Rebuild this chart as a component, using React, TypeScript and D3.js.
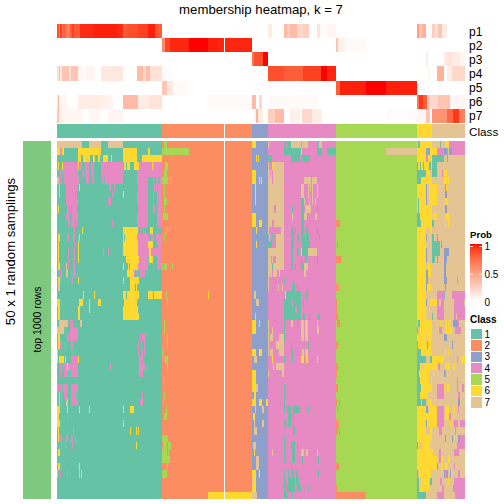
import React from "react";
import * as d3 from "d3";

const title = "membership heatmap, k = 7";
const classColors = ["#66C2A5", "#FC8D62", "#8DA0CB", "#E78AC3", "#A6D854", "#FFD92F", "#E5C494"];
const classLabels = ["1", "2", "3", "4", "5", "6", "7"];
const classBlocks: [number, number, number][] = [[1, 0, 104.5], [2, 104.5, 195], [3, 195, 211], [4, 211, 279], [5, 279, 360], [6, 360, 375], [7, 375, 408]];
const heatBase: [number, number, number][] = [[1, 0, 105], [2, 105, 195], [3, 195, 211], [4, 211, 279], [5, 279, 360], [7, 360, 408]];
const gapColumn = 167;
const probLabels = ["p1", "p2", "p3", "p4", "p5", "p6", "p7"];
const probTicks = [1, 0.5, 0];

const p1: [number, number, number][] = [[0,2,.85],[2,3,.65],[3,5,.9],[5,6,.7],[6,8,.8],[8,10,.7],[10,13,.65],[13,15,.8],[15,17,.9],[17,23,.82],[23,36,.95],[36,60,.97],[60,66,.95],[66,70,.8],[70,81,.85],[81,91,.9],[91,98,.97],[98,101,.85],[101,105,.8],[211,215,.1],[227,230,.35],[230,233,.25],[233,240,.35],[240,246,.2],[246,252,.25],[260,263,.15],[263,270,.02],[270,279,.05],[360,362,.5],[362,365,.3],[365,369,.4],[369,375,.02],[375,378,.25],[378,381,.15],[381,385,.3],[385,390,.1]];
const p2: [number, number, number][] = [[105,108,.6],[108,113,.88],[113,132,.96],[132,151,1],[151,161,.97],[161,195,.96],[279,281,.3],[281,288,.08],[288,309,.03]];
const p3: [number, number, number][] = [[195,197,.7],[197,206,.85],[206,211,1],[369,371,.1],[387,390,.1],[390,395,.15],[395,403,.1],[403,408,.05]];
const p4: [number, number, number][] = [[0,2,.15],[2,3,.35],[3,5,.12],[5,12,.3],[12,14,.15],[14,21,.3],[21,26,.05],[29,38,.05],[44,66,.12],[80,86,.35],[86,89,.2],[89,93,.35],[93,105,.15],[105,115,.02],[211,227,.85],[227,246,.8],[246,264,.9],[264,270,1],[270,279,.96],[371,373,.05],[380,387,.4],[390,395,.1],[395,408,.2]];
const p5: [number, number, number][] = [[105,110,.3],[110,116,.12],[116,132,.03],[279,283,.8],[283,309,.97],[309,329,1],[329,360,.97]];
const p6: [number, number, number][] = [[0,1,.1],[1,2,.4],[2,10,.05],[21,43,.1],[43,52,.08],[52,56,.05],[66,81,.35],[81,93,.1],[93,105,.15],[151,195,.03],[195,199,.35],[202,205,.2],[211,261,.03],[360,362,.7],[362,366,.92],[366,370,.8],[370,372,.3],[372,381,.2],[381,393,.3],[393,408,.05]];
const p7: [number, number, number][] = [[0,2,.3],[2,5,.1],[5,25,.05],[32,43,.04],[51,66,.05],[197,199,.05],[199,201,.4],[201,206,.1],[211,218,.25],[218,227,.35],[233,243,.08],[245,255,.2],[255,265,.1],[329,360,.02],[360,369,.05],[369,373,.3],[375,390,.55],[390,396,.75],[396,402,.92],[402,408,.65]];
const probRows = [p1, p2, p3, p4, p5, p6, p7];

const leftTopOffset = 21;
const leftTop = [
"7:21-96 7:117-153 7:174-219 5:342-351",
"6:21-30 4:30-36 6:36-42 6:84-153 6:219-261 6:294-300 5:336-417",
"6:84-93 6:99-120 6:129-135 6:144-150 6:159-174 6:183-186 6:219-261 6:276-336 4:363-366",
"6:24-27 6:36-39 4:39-84 6:84-87 4:90-96 4:105-117 4:123-132 4:153-219 6:222-228 6:231-240 6:252-267 4:267-336 6:306-309 5:345-354",
"4:30-36 4:39-84 4:96-102 4:105-117 4:123-132 4:153-219 4:261-336 5:342-351",
"7:21-27 4:27-36 4:42-87 4:108-117 4:126-132 4:156-162 4:165-219 4:261-294 4:309-312 4:318-324 4:330-336 5:336-354 5:357-360 5:363-366",
"7:27-30 4:48-84 6:87-90 4:177-183 4:192-195 4:264-294 4:312-321 4:324-336 5:342-345",
"7:27-30 4:48-75 4:78-81 4:186-189 6:219-222 4:261-294 4:309-312 4:321-336 5:342-345",
"4:48-84 4:174-183 4:261-294 4:309-312 4:321-336 5:342-351",
"6:24-27 4:51-57 4:60-63 4:66-81 4:264-294 4:309-315 4:321-336 5:342-345",
"4:48-60 4:66-84 4:261-294 4:321-336 5:339-354",
"4:54-60 4:63-75 4:78-81 4:186-189 4:261-294 4:321-336",
"4:69-75 6:96-99 6:219-264 4:270-273 4:279-282 4:285-288 6:300-309 4:321-324 5:345-348 5:351-354 5:357-360",
"6:24-30 4:51-57 4:69-75 6:87-90 6:219-222 6:225-261 4:261-297 4:303-312 4:318-336 5:342-345",
"6:24-27 4:72-75 6:84-87 6:219-264 4:264-294 6:294-309 4:321-336",
"6:24-27 4:54-57 4:69-75 6:84-87 4:159-162 4:174-177 6:219-264 4:264-297 6:297-303 4:303-336",
"6:24-27 4:54-57 4:69-75 6:84-87 6:228-267 4:267-294 6:297-309 4:321-336",
"6:24-30 7:48-51 4:54-57 4:69-75 6:219-222 6:234-237 6:240-264 4:264-294 4:309-312 4:321-336 5:336-339 5:342-351 5:366-369",
"4:30-36 7:48-54 4:63-66 4:69-78 6:231-252 4:252-255 4:261-264 4:270-285",
"6:24-30 4:33-36 4:51-54 4:66-69 6:84-87 6:219-222 6:240-267",
"7:24-30 6:240-255 6:258-261",
"6:99-102 6:132-135 6:219-228 6:231-267 6:294-309 6:312-336 5:348-351 6:474-477",
"6:21-30 4:33-36 6:87-99 6:117-120 6:144-153 6:222-261 5:351-354",
"6:24-30 6:84-90 6:117-120 6:219-264",
"6:24-30 6:84-90 6:219-267",
];
const leftBottomOffset = 171;
const leftBottom = [
"7:177-204 4:210-219 7:240-246 5:492-495",
"7:171-192 4:195-198 4:210-234 5:492-495",
"6:174-180 4:201-207 4:210-234 4:420-423 4:426-435 5:501-504",
"6:174-180 4:180-186 4:195-198 4:213-219 4:414-417 4:423-426 4:432-435 5:501-504",
"7:171-174 4:219-222 4:414-417 4:423-429 4:432-435 5:486-489",
"6:171-174 6:177-192 6:195-198 4:213-234 6:234-237 4:417-429 5:489-492 5:495-504",
"4:180-186 4:189-201 6:201-204 4:204-234 4:330-333 4:417-435 5:501-504",
"4:180-186 4:192-204 4:207-210 4:213-234 4:417-429",
"5:489-492",
"4:171-177 4:180-186 4:189-204 4:213-234",
"7:177-180 4:183-186 4:192-201 4:213-228 4:231-234 4:426-429 5:492-495",
"7:177-180 4:183-186 7:198-204 4:213-234 4:420-429 5:489-492",
"6:171-180 6:201-204 6:237-240 6:267-270 6:369-372 6:390-402 5:498-501",
"6:171-177 4:201-204 5:492-501",
"6:171-180 4:183-186 6:369-372",
"6:174-177 4:219-222 6:390-393 6:408-411 6:414-417",
"6:174-177 4:177-186 4:198-204 4:213-219 4:225-228 5:486-504",
"4:183-186 4:195-198 4:216-219 6:408-411 5:489-501 5:504-513",
"6:174-180 5:486-501 5:504-507",
"5:486-510",
"6:174-180 4:183-186 6:237-240 5:501-504",
"7:171-174 4:180-183 4:201-204 7:237-240 7:243-246 5:486-501",
"",
"",
"6:624-756",
];
const rightOffset = -549;
const rightRows = [
"6:36-48 7:84-87 1:132-138 1:141-153 7:153-183 7:186-204 1:234-237 7:237-246 1:534-540 6:540-576 1:600-603 6:615-627 4:627-675",
"4:84-132 1:132-183 6:183-186 1:231-246 1:261-288 7:438-531 6:531-558 3:558-561 4:561-564 3:564-570 6:570-591 4:591-612 3:612-621 4:621-624 3:627-636 4:636-675",
"6:48-51 6:54-57 1:84-96 1:153-180 1:186-210 6:531-558 4:558-564 6:564-576 1:576-612 1:621-624",
"7:84-87 6:96-99 7:99-132 1:531-534 6:534-540 1:540-543 6:543-549 1:549-552 6:552-567 1:567-573 6:573-576 1:576-591",
"6:36-48 7:84-90 7:93-96 7:99-132 1:531-558 6:558-570 1:576-591 4:606-609 6:612-621",
"6:36-48 6:57-60 6:63-66 7:84-96 7:99-132 7:192-213 7:216-231 1:531-543 6:543-576 6:612-621 6:624-627",
"6:45-48 7:84-132 7:183-192 7:204-207 7:210-213 7:216-219 7:231-234 6:531-558 3:558-561 6:567-591 3:615-618 6:618-621",
"6:45-48 7:84-132 7:183-192 7:204-207 7:216-219 7:231-234 6:531-558 3:558-561 6:567-591 3:615-621",
"6:45-48 7:84-132 1:183-192 7:192-195 7:207-210 7:216-219 7:225-228 6:531-534 1:534-537 6:537-558 3:558-561 6:567-591 6:615-624",
"7:84-132 4:102-108 1:156-159 1:183-192 7:195-213 1:231-234 6:531-534 1:534-537 6:537-576 3:615-621",
"6:36-48 7:84-132 7:156-159 1:183-192 7:192-201 1:201-204 7:225-231 1:531-540 6:540-576 6:579-591 6:615-627",
"6:36-48 6:57-66 7:84-96 7:102-132 1:183-192 2:288-300 1:531-543 6:543-576 1:576-582 6:615-618 6:624-627",
"6:48-51 4:87-123 7:84-87 7:123-132 1:153-162 1:165-168 1:183-192 1:198-204 1:231-234 6:531-558 6:570-576",
"1:84-87 7:87-90 1:96-99 7:108-132 1:153-162 1:171-177 1:183-195 1:198-207 1:237-240 6:531-558 3:558-561 1:576-582 1:591-594",
"6:48-51 1:84-96 7:108-132 1:153-162 1:186-210 2:291-294 6:531-558 1:576-600 1:603-606",
"7:84-132 1:153-159 1:171-177 6:183-186 1:186-204 7:204-231 6:531-558 3:558-561 1:576-600 3:612-627",
"7:84-93 7:96-99 7:108-132 1:153-159 1:183-186 1:195-201 1:231-234 2:288-303 6:531-558 3:558-561 1:576-585 1:591-594 3:612-621",
"7:84-96 1:96-99 7:99-132 1:153-159 1:165-168 1:183-192 7:192-204 6:531-558 6:561-573 3:612-618",
"7:84-96 7:99-111 7:117-120 7:192-198 6:531-558 3:558-564 6:564-573 3:612-618",
"7:84-87 1:132-135 6:531-558 3:558-564 3:612-621 4:651-654",
"7:84-87 7:114-117 7:126-129 1:156-165 1:171-174 2:288-291 2:294-297 6:531-558 3:558-561 6:561-573 3:615-618",
"7:42-48 1:135-183 6:135-138 1:198-204 6:531-558 4:591-612 3:612-615 4:636-675",
"7:48-57 1:132-156 1:159-183 1:189-192 2:288-291 6:531-558 3:558-561 6:570-591 4:591-597 4:603-612 4:642-672",
"1:132-165 4:165-171 1:171-183 2:288-291 6:531-558 4:591-612 4:642-675",
"7:45-48 1:132-183 1:189-195 1:207-210 1:234-240 2:288-294 6:531-558 1:576-579 4:591-612 4:642-648 4:651-675",
"6:36-48 6:57-60 7:84-87 1:132-135 7:153-159 1:171-174 7:183-192 7:195-204 7:231-234 2:291-300 1:534-540 6:540-576 6:600-603 6:615-621 6:624-630 3:639-654 4:654-657",
"6:36-48 7:84-87 7:96-99 1:132-135 7:183-192 7:195-204 7:231-237 1:531-534 6:540-576 4:597-606 6:615-636 4:645-663",
"7:84-87 7:90-99 7:117-132 1:132-135 7:183-192 7:195-204 6:531-558 6:561-564 6:564-576 3:612-621",
"7:84-87 7:108-132 1:153-156 1:204-207 2:288-294 1:531-534 6:534-561 3:561-564 6:564-573 3:636-639",
"6:36-48 6:57-66 7:84-87 7:90-99 7:117-132 1:153-159 1:171-174 7:186-192 7:195-204 1:531-543 6:543-576 6:615-618 6:624-627",
"7:42-51 6:96-99 1:132-135 1:156-159 6:183-192 6:198-204 6:231-234 1:531-558 1:570-576 6:576-612 4:651-654 6:663-675",
"7:99-102 7:108-132 2:288-294 1:531-540 6:540-546 6:549-594 4:594-600 6:615-630 6:639-645",
"6:36-48 7:84-87 7:126-132 2:288-291 1:531-537 6:537-567 6:579-582 6:591-594 3:612-615 4:615-618",
"6:36-48 1:531-537 3:537-540 6:540-567 6:573-576 4:651-654",
"6:36-48 7:48-54 1:132-135 2:288-294 1:531-543 6:543-576 4:591-612 6:612-615 6:621-627 4:651-654 4:666-672",
"6:42-48 1:132-135 1:531-540 6:540-564 4:591-612 4:654-660",
"6:36-48 6:57-66 6:78-84 1:132-135 2:288-291 2:297-300 1:531-543 1:546-558 6:564-576 3:654-660",
"7:45-48 7:66-72 1:132-135 1:141-153 1:159-180 1:204-207 2:291-294 6:531-558 3:558-564 6:567-591 4:591-612 6:615-627 6:642-645 4:653-657",
"6:39-45 1:144-156 1:159-162 6:531-591 4:591-612 6:615-627 4:627-633 6:639-642",
"7:42-45 7:66-72 1:132-138 1:144-153 1:159-162 2:288-291 2:294-297 6:531-558 3:558-561 6:561-591 4:591-612 6:630-633 4:642-654 4:660-675",
"7:42-51 1:159-165 2:288-294 2:297-300 6:531-558 6:570-576 4:597-606 4:645-648",
"1:132-135 6:531-576 3:615-618 3:636-639 3:654-660 4:660-675",
"7:39-48 1:132-135 1:153-165 1:171-174 1:531-534 6:534-537 6:546-570 6:615-618 4:651-675",
"6:42-45 7:96-99 1:132-135 1:156-165 7:183-192 7:198-204 7:231-234 6:531-579 4:597-603 4:642-657",
"7:48-57 1:132-135 1:156-165 1:186-189 1:234-237 6:531-591 4:597-603 6:603-609 6:624-630",
"7:48-57 1:153-156 2:288-297 6:531-591 1:591-594 6:603-609 6:615-624 4:642-645",
"6:36-48 6:57-60 1:132-135 1:144-147 1:156-162 1:168-174 1:234-237 1:531-534 6:537-573 3:612-615 4:615-621 3:621-624 3:630-633 6:633-636 4:654-660",
"7:36-39 6:39-48 1:132-138 1:144-165 1:168-177 1:531-537 6:537-540 6:543-567 1:570-576 4:600-606 6:624-627 4:642-675",
"6:36-48 1:132-138 1:141-165 1:171-183 1:204-207 2:288-291 1:531-537 6:540-567 4:606-612 4:639-675",
"7:36-51 1:132-141 1:156-159 2:288-378 1:531-558 4:591-612 4:645-675",
];

type Run = { c: number; a: number; b: number };
const parseRow = (s: string, offset: number): Run[] =>
  s.split(" ").filter(Boolean).map((t) => {
    const [c, r] = t.split(":");
    const [a, b] = r.split("-").map(Number);
    return { c: +c, a: (a - offset) / 3, b: (b - offset) / 3 };
  });

const left = [...leftTop.map((s) => parseRow(s, leftTopOffset)), ...leftBottom.map((s) => parseRow(s, leftBottomOffset))];
const right = rightRows.map((s) => parseRow(s, rightOffset));

const x = d3.scaleLinear().domain([0, 408]).range([57, 465]);
const y = d3.scaleLinear().domain([0, 50]).range([141, 499]);
const pY = d3.scaleLinear().domain([0, 7]).range([24, 123]);
const probColor = d3.scaleLinear<string>().domain([0, 0.5, 1]).range(["#FFFFFF", "#FF9E81", "#FF0000"]).interpolate(d3.interpolateLab);
const barY = d3.scaleLinear().domain([1, 0]).range([246.5, 302]);
const swatchY = d3.scaleBand<string>().domain(classLabels).range([328.5, 408]);
const font = "'Liberation Sans', Arial, sans-serif";

export default function App() {
  const stops = d3.range(0, 1.01, 0.05);
  return (
    <svg width={504} height={504} style={{ position: "absolute", left: 0, top: 0, background: "#fff" }} fontFamily={font} fill="#000">
      <defs>
        <linearGradient id="prob" x1="0" y1="1" x2="0" y2="0">
          {stops.map((s) => <stop key={s} offset={s} stopColor={probColor(s)} />)}
        </linearGradient>
      </defs>
      <text x={261} y={14} fontSize={13.2} textAnchor="middle">{title}</text>

      <g shapeRendering="crispEdges">
        {probRows.map((row, i) => row.map(([a, b, v], j) => (
          <rect key={`${i}-${j}`} x={x(a)} width={x(b) - x(a)} y={pY(i)} height={pY(i + 1) - pY(i)} fill={probColor(v)} />
        )))}
        {classBlocks.map(([c, a, b]) => (
          <rect key={c} x={x(a)} width={x(b) - x(a)} y={124} height={14} fill={classColors[c - 1]} />
        ))}
        <rect x={23} y={141} width={28} height={358} fill="#7FC97F" />
        {d3.range(50).map((r) => (
          <g key={r}>
            {heatBase.map(([c, a, b]) => (
              <rect key={c} x={x(a)} width={x(b) - x(a)} y={y(r)} height={y(r + 1) - y(r)} fill={classColors[c - 1]} />
            ))}
            {[...left[r], ...right[r]].map((u, i) => (
              <rect key={i} x={x(u.a)} width={x(u.b) - x(u.a)} y={y(r)} height={y(r + 1) - y(r)} fill={classColors[u.c - 1]} />
            ))}
          </g>
        ))}
        <rect x={x(gapColumn)} width={1} y={24} height={475} fill="#fff" />
      </g>

      {probLabels.map((l, i) => (
        <text key={l} x={469} y={pY(i) + 11.5} fontSize={12}>{l}</text>
      ))}
      <text x={469} y={135.5} fontSize={11.7}>Class</text>

      <text transform="translate(14.5,251.5) rotate(-90)" fontSize={13.2} textAnchor="middle">50 x 1 random samplings</text>
      <text transform="translate(40.7,319.5) rotate(-90)" fontSize={10.5} textAnchor="middle">top 1000 rows</text>

      <text x={470} y={238.3} fontSize={9.6} fontWeight="bold">Prob</text>
      <rect x={470} y={244} width={12} height={57} fill="url(#prob)" />
      {[0.5, 1].map((t) => (
        <g key={t} stroke="#fff" strokeWidth={0.8}>
          <line x1={470} x2={473} y1={barY(t)} y2={barY(t)} />
          <line x1={479} x2={482} y1={barY(t)} y2={barY(t)} />
        </g>
      ))}
      {probTicks.map((t) => (
        <text key={t} x={484.5} y={barY(t) + 3.5} fontSize={10}>{t}</text>
      ))}

      <text x={470} y={322.7} fontSize={10} fontWeight="bold">Class</text>
      {classLabels.map((l, i) => (
        <g key={l}>
          <rect x={470} y={swatchY(l)} width={12} height={swatchY.bandwidth()} fill={classColors[i]} stroke="#fff" strokeWidth={1} shapeRendering="crispEdges" />
          <text x={484.5} y={(swatchY(l) as number) + swatchY.bandwidth() / 2 + 3.5} fontSize={10}>{l}</text>
        </g>
      ))}
    </svg>
  );
}
